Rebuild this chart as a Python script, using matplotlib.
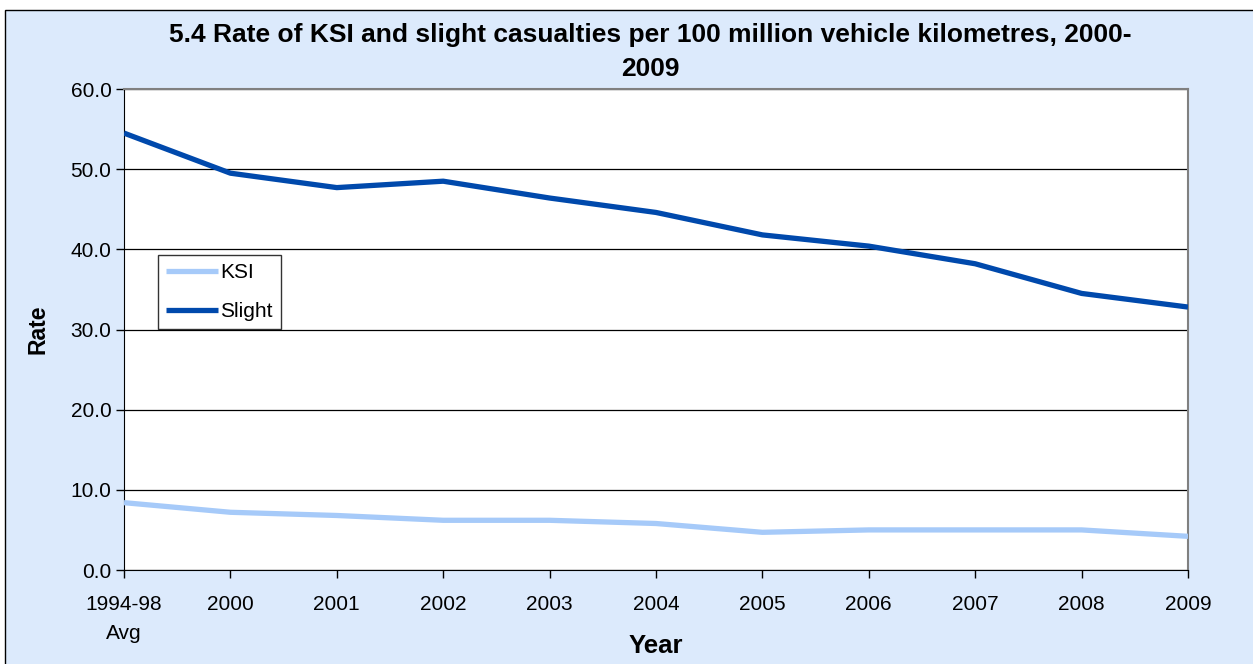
import matplotlib
matplotlib.use("Agg")
import matplotlib.pyplot as plt
from matplotlib.patches import Rectangle

categories = ["1994-98\nAvg", "2000", "2001", "2002", "2003", "2004", "2005", "2006", "2007", "2008", "2009"]
ksi = [8.4, 7.2, 6.8, 6.2, 6.2, 5.8, 4.7, 5.0, 5.0, 5.0, 4.2]
slight = [54.5, 49.5, 47.7, 48.5, 46.4, 44.6, 41.8, 40.4, 38.2, 34.5, 32.8]
yticks = [0, 10, 20, 30, 40, 50, 60]

plt.rcParams['font.family'] = ['Liberation Sans', 'DejaVu Sans']

W, H = 1253, 664
fig = plt.figure(figsize=(W / 100, H / 100), dpi=100)
fig.patch.set_facecolor("white")
bg = Rectangle((5 / W, -0.01), 1.05, 1 - 10 / H + 0.01, transform=fig.transFigure,
               facecolor="#DCEAFC", edgecolor="black", linewidth=1.0, zorder=-5)
fig.add_artist(bg)

ax = fig.add_axes([124 / W, 1 - 570 / H, (1188 - 124) / W, (570 - 89) / H])
ax.set_zorder(2)
ax.set_facecolor("white")
x = list(range(len(categories)))
ax.plot(x, ksi, color="#A6CAF9", linewidth=3.8, label="KSI", solid_capstyle="butt", zorder=3)
ax.plot(x, slight, color="#0049AC", linewidth=3.8, label="Slight", solid_capstyle="butt", zorder=3)

ax.set_xlim(0, len(categories) - 1)
ax.set_ylim(0, 60)
ax.set_yticks(yticks)
ax.set_yticklabels([f"{v:.1f}" for v in yticks])
ax.set_xticks(x)
ax.set_xticklabels(categories, linespacing=1.65)
ax.tick_params(axis="both", labelsize=15, direction="out", length=6, width=1, color="black")
ax.tick_params(axis="x", pad=12)
ax.tick_params(axis="y", pad=3)
ax.yaxis.grid(True, color="black", linewidth=0.9)
ax.set_axisbelow(True)
for s in ["top", "right"]:
    ax.spines[s].set_color("#808080")
    ax.spines[s].set_linewidth(1.5)
ax.spines["left"].set_color("black")
ax.spines["bottom"].set_color("black")

ax.set_ylabel("Rate", fontsize=16.5, fontweight="bold", labelpad=15)
fig.text(656 / W, 1 - 646 / H, "Year", fontsize=18.5, fontweight="bold", ha="center", va="center")
fig.text(650 / W, 1 - 52 / H,
         "5.4 Rate of KSI and slight casualties per 100 million vehicle kilometres, 2000-\n2009",
         fontsize=19, fontweight="bold", ha="center", va="center", linespacing=1.5)

leg = ax.legend(loc="lower left", bbox_to_anchor=(0.032, 0.501), fontsize=15, frameon=True,
                fancybox=False, edgecolor="black", handlelength=2.5, handletextpad=0.1,
                labelspacing=0.95, borderpad=0.38, borderaxespad=0)
leg.get_frame().set_linewidth(1.0)

fig.savefig("out.png", dpi=100, facecolor=fig.get_facecolor())
